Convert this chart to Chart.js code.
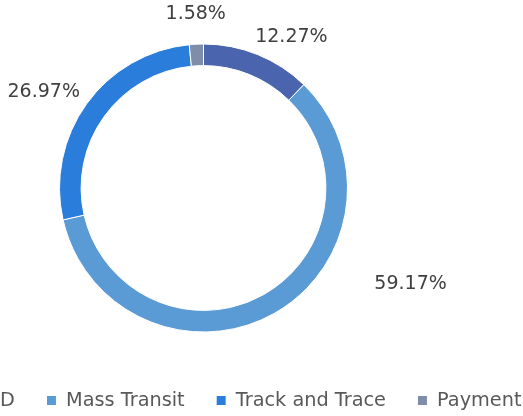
<!DOCTYPE html>
<html>
<head>
<meta charset="utf-8">
<script src="https://cdn.jsdelivr.net/npm/chart.js@4.4.1/dist/chart.umd.min.js"></script>
<style>
  html, body { margin: 0; padding: 0; background: #ffffff; overflow: hidden; }
  body { width: 523px; height: 416px; position: relative; }
  #wrap { position: absolute; left: -146px; top: 0; width: 699px; height: 416px; }
</style>
</head>
<body>
<div id="wrap"><canvas id="c"></canvas></div>
<script>
// ---- data ----
const categories = ['Access ID', 'Mass Transit', 'Track and Trace', 'Payment'];
const shares = [12.27, 59.17, 26.97, 1.58];
const sliceColors = ['#4a65ad', '#5b9bd5', '#2b7ddb', '#7e8eaa'];

// label placement: fraction along each slice's arc, and gap beyond the outer edge (px)
const labelAlong = [0.684, 0.332, 0.452, 0.55];
const labelGap = [30.7, 84.3, 42.6, 30.2];

const pctLabels = {
  id: 'pctLabels',
  afterDatasetsDraw(chart) {
    const ctx = chart.ctx;
    const meta = chart.getDatasetMeta(0);
    ctx.save();
    ctx.font = '19px "DejaVu Sans", Verdana, sans-serif';
    ctx.fillStyle = '#404040';
    ctx.textAlign = 'center';
    ctx.textBaseline = 'middle';
    meta.data.forEach((arc, i) => {
      const p = arc.getProps(['x', 'y', 'startAngle', 'endAngle', 'outerRadius'], true);
      const a = p.startAngle + labelAlong[i] * (p.endAngle - p.startAngle);
      const r = p.outerRadius + labelGap[i];
      ctx.fillText(shares[i].toFixed(2) + '%', p.x + r * Math.cos(a), p.y + r * Math.sin(a));
    });
    ctx.restore();
  }
};

new Chart(document.getElementById('c'), {
  type: 'doughnut',
  data: {
    labels: categories,
    datasets: [{
      data: shares,
      backgroundColor: sliceColors,
      borderColor: '#ffffff',
      borderWidth: 1,
      radius: 144,
      cutout: '85%'
    }]
  },
  options: {
    responsive: true,
    maintainAspectRatio: false,
    animation: false,
    events: [],
    layout: { padding: { top: 16.65, bottom: -4.15, left: 0, right: 0 } },
    plugins: {
      tooltip: { enabled: false },
      legend: {
        position: 'bottom',
        align: 'end',
        labels: {
          boxWidth: 10,
          boxHeight: 10,
          padding: 31.5,
          color: '#595959',
          font: { family: '"DejaVu Sans", Verdana, sans-serif', size: 19.3 }
        }
      }
    }
  },
  plugins: [pctLabels]
});
</script>
</body>
</html>
